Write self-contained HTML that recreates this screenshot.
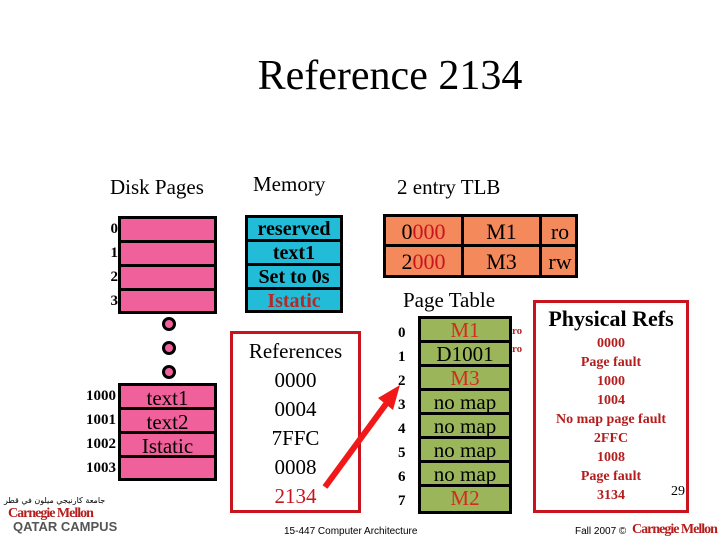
<!DOCTYPE html>
<html><head><meta charset="utf-8"><style>
body{margin:0;width:720px;height:540px;background:#fff;position:relative;overflow:hidden;font-family:"Liberation Serif",serif;}
.a{position:absolute;}
.b{position:absolute;border:3px solid #000;box-sizing:border-box;}
.row{position:absolute;box-sizing:border-box;border-top:3px solid #000;text-align:center;font-weight:bold;}
.t{position:absolute;white-space:nowrap;}
</style></head><body>
<div class="t" style="left:0;width:780px;text-align:center;top:52px;font-size:42px;">Reference 2134</div>
<div class="t" style="left:110px;top:175px;font-size:21px;">Disk Pages</div>
<div class="t" style="left:253px;top:172px;font-size:21px;">Memory</div>
<div class="t" style="left:397px;top:175px;font-size:21px;">2 entry TLB</div>
<div class="t" style="left:403px;top:288px;font-size:21px;">Page Table</div>

<!-- Disk pages top -->
<div class="b" style="left:118px;top:216px;width:99px;height:98px;background:#f0609a;"></div>
<div class="a" style="left:118px;top:240px;width:99px;height:3px;background:#000"></div>
<div class="a" style="left:118px;top:264px;width:99px;height:3px;background:#000"></div>
<div class="a" style="left:118px;top:288px;width:99px;height:3px;background:#000"></div>
<div class="t" style="left:100px;top:217px;font-size:15px;font-weight:bold;line-height:24px;text-align:right;width:18px;">0<br>1<br>2<br>3</div>
<div class="a" style="left:162px;top:317px;width:8px;height:8px;border:3px solid #000;background:#f0609a;border-radius:50%"></div>
<div class="a" style="left:162px;top:341px;width:8px;height:8px;border:3px solid #000;background:#f0609a;border-radius:50%"></div>
<div class="a" style="left:162px;top:365px;width:8px;height:8px;border:3px solid #000;background:#f0609a;border-radius:50%"></div>
<!-- Disk pages bottom -->
<div class="b" style="left:118px;top:383px;width:99px;height:98px;background:#f0609a;"></div>
<div class="a" style="left:118px;top:407px;width:99px;height:3px;background:#000"></div>
<div class="a" style="left:118px;top:431px;width:99px;height:3px;background:#000"></div>
<div class="a" style="left:118px;top:455px;width:99px;height:3px;background:#000"></div>
<div class="t" style="left:121px;top:386px;width:93px;text-align:center;font-size:21px;line-height:24px;">text1<br>text2<br>Istatic</div>
<div class="t" style="left:76px;top:384px;font-size:15px;font-weight:bold;line-height:24px;text-align:right;width:40px;">1000<br>1001<br>1002<br>1003</div>

<!-- Memory -->
<div class="b" style="left:245px;top:215px;width:98px;height:98px;background:#22bcd8;"></div>
<div class="a" style="left:245px;top:239px;width:98px;height:3px;background:#000"></div>
<div class="a" style="left:245px;top:263px;width:98px;height:3px;background:#000"></div>
<div class="a" style="left:245px;top:287px;width:98px;height:3px;background:#000"></div>
<div class="t" style="left:245px;top:217px;width:98px;text-align:center;font-size:20px;line-height:24px;font-weight:bold;">reserved<br>text1<br>Set to 0s<br><span style="color:#b22a2a">Istatic</span></div>

<!-- References -->
<div class="a" style="left:230px;top:331px;width:131px;height:182px;border:3px solid #c8141e;box-sizing:border-box;"></div>
<div class="t" style="left:230px;top:337px;width:131px;text-align:center;font-size:21px;line-height:29px;">References<br>0000<br>0004<br>7FFC<br>0008<br><span style="color:#c8141e">2134</span></div>
<svg class="a" style="left:0;top:0" width="720" height="540"><line x1="325" y1="487" x2="386" y2="404" stroke="#f01818" stroke-width="6"/><polygon points="400,385 378,398 393,410" fill="#f01818"/></svg>

<!-- TLB -->
<div class="b" style="left:383px;top:214px;width:195px;height:64px;background:#f4895c;"></div>
<div class="a" style="left:383px;top:244px;width:195px;height:3px;background:#000"></div>
<div class="a" style="left:461px;top:214px;width:3px;height:64px;background:#000"></div>
<div class="a" style="left:539px;top:214px;width:3px;height:64px;background:#000"></div>
<div class="t" style="left:386px;top:217px;width:75px;text-align:center;font-size:22px;line-height:30px;color:#c8141e"><b style="color:#000;font-weight:normal">0</b>000<br><b style="color:#000;font-weight:normal">2</b>000</div>
<div class="t" style="left:464px;top:217px;width:75px;text-align:center;font-size:22px;line-height:30px;">M1<br>M3</div>
<div class="t" style="left:542px;top:217px;width:36px;text-align:center;font-size:22px;line-height:30px;">ro<br>rw</div>

<!-- Page table -->
<div class="b" style="left:418px;top:316px;width:94px;height:198px;background:#9ab55a;"></div>
<div class="a" style="left:418px;top:340px;width:94px;height:3px;background:#000"></div>
<div class="a" style="left:418px;top:364px;width:94px;height:3px;background:#000"></div>
<div class="a" style="left:418px;top:388px;width:94px;height:3px;background:#000"></div>
<div class="a" style="left:418px;top:412px;width:94px;height:3px;background:#000"></div>
<div class="a" style="left:418px;top:436px;width:94px;height:3px;background:#000"></div>
<div class="a" style="left:418px;top:460px;width:94px;height:3px;background:#000"></div>
<div class="a" style="left:418px;top:484px;width:94px;height:3px;background:#000"></div>
<div class="t" style="left:418px;top:318px;width:94px;text-align:center;font-size:21px;line-height:24px;"><span style="color:#d52b1e">M1</span><br>D1001<br><span style="color:#d52b1e">M3</span><br>no map<br>no map<br>no map<br>no map<br><span style="color:#d52b1e">M2</span></div>
<div class="t" style="left:398px;top:321px;font-size:15px;font-weight:bold;line-height:24px;">0<br>1<br>2<br>3<br>4<br>5<br>6<br>7</div>
<div class="t" style="left:512px;top:322px;font-size:11px;font-weight:bold;color:#b22a2a;line-height:18px;">ro<br>ro</div>

<!-- Physical refs -->
<div class="a" style="left:533px;top:300px;width:156px;height:213px;border:3px solid #c8141e;box-sizing:border-box;"></div>
<div class="t" style="left:533px;top:306px;width:156px;text-align:center;font-size:22px;font-weight:bold;">Physical Refs</div>
<div class="t" style="left:533px;top:334px;width:156px;text-align:center;font-size:14px;font-weight:bold;line-height:19px;color:#b51d1d">0000<br>Page fault<br>1000<br>1004<br>No map page fault<br>2FFC<br>1008<br>Page fault<br>3134</div>
<div class="t" style="left:671px;top:484px;font-size:14px;">29</div>

<!-- footer -->
<div class="t" style="left:4px;top:496px;font-size:8px;font-family:'DejaVu Sans',sans-serif;">جامعة كارنيجي ميلون في قطر</div>
<div class="t" style="left:8px;top:506px;font-size:14px;font-weight:bold;color:#b51d1d;letter-spacing:-1px;">Carnegie Mellon</div>
<div class="t" style="left:13px;top:519px;font-size:13px;font-weight:bold;color:#555;font-family:'Liberation Sans',sans-serif;">QATAR CAMPUS</div>
<div class="t" style="left:284px;top:526px;font-size:10px;font-family:'Liberation Sans',sans-serif;">15-447 Computer Architecture</div>
<div class="t" style="left:575px;top:526px;font-size:10px;font-family:'Liberation Sans',sans-serif;">Fall 2007 ©</div>
<div class="t" style="left:632px;top:522px;font-size:14px;font-weight:bold;color:#b51d1d;letter-spacing:-1px;">Carnegie Mellon</div>
</body></html>
